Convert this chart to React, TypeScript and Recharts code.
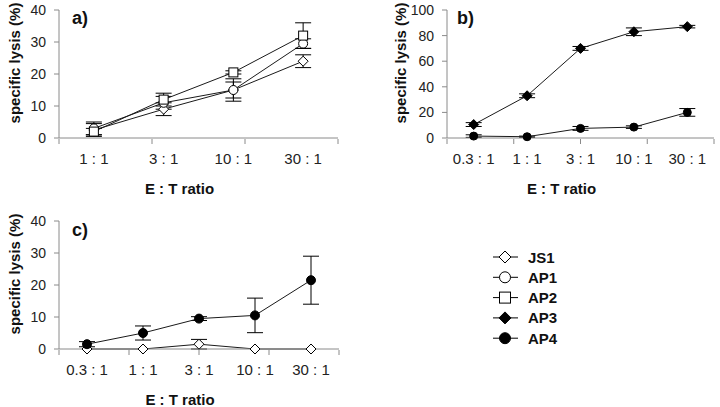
import { ComposedChart, Line, XAxis, YAxis, ErrorBar } from 'recharts'

const ratiosA = ['1 : 1', '3 : 1', '10 : 1', '30 : 1']
const ratiosBC = ['0.3 : 1', '1 : 1', '3 : 1', '10 : 1', '30 : 1']

// panel a
const aJS1 = [2.5, 9, 15, 24]
const aJS1Err = [2, 2, 3.5, 2]
const aAP1 = [3, 11, 15, 29.5]
const aAP1Err = [2, 2, 2.5, 1.5]
const aAP2 = [2, 12, 20.5, 32]
const aAP2Err = [1, 2, 0.5, 4]

// panel b
const bAP3 = [10.5, 33, 70, 83, 87]
const bAP3Err = [1.5, 1.5, 1.5, 3, 1]
const bAP4 = [1.5, 1, 7.5, 8.5, 20]
const bAP4Err = [1, 0.5, 1.5, 1, 3]

// panel c
const cJS1 = [0, 0, 1.5, 0, 0]
const cJS1Err = [0, 0, 1.5, 0, 0]
const cAP4 = [1.5, 5, 9.5, 10.5, 21.5]
const cAP4Err = [0.8, 2.2, 0.6, 5.4, 7.5]

const ticks40 = [0, 10, 20, 30, 40]
const ticks100 = [0, 20, 40, 60, 80, 100]

const legendItems = ['JS1', 'AP1', 'AP2', 'AP3', 'AP4']

const font = '"Liberation Sans", Arial, sans-serif'
const axisColor = '#8a8a8a'
const lineColor = '#1a1a1a'

const dataA = ratiosA.map((ratio, i) => ({
  ratio,
  JS1: aJS1[i],
  JS1e: aJS1Err[i],
  AP1: aAP1[i],
  AP1e: aAP1Err[i],
  AP2: aAP2[i],
  AP2e: aAP2Err[i]
}))

const dataB = ratiosBC.map((ratio, i) => ({
  ratio,
  AP3: bAP3[i],
  AP3e: bAP3Err[i],
  AP4: bAP4[i],
  AP4e: bAP4Err[i]
}))

const dataC = ratiosBC.map((ratio, i) => ({
  ratio,
  JS1: cJS1[i],
  JS1e: cJS1Err[i],
  AP4: cAP4[i],
  AP4e: cAP4Err[i]
}))

type Marker = 'diamond' | 'circle' | 'square' | 'fdiamond' | 'fcircle'

const Symbol = ({ cx, cy, kind, r = 5 }: { cx: number; cy: number; kind: Marker; r?: number }) => {
  const filled = kind === 'fdiamond' || kind === 'fcircle'
  const fill = filled ? '#000' : '#fff'
  if (kind === 'diamond' || kind === 'fdiamond') {
    return (
      <path
        d={`M${cx},${cy - r}L${cx + r},${cy}L${cx},${cy + r}L${cx - r},${cy}Z`}
        fill={fill}
        stroke="#000"
        strokeWidth={1}
      />
    )
  }
  if (kind === 'square') {
    return <rect x={cx - r + 0.5} y={cy - r + 0.5} width={2 * r - 1} height={2 * r - 1} fill={fill} stroke="#000" strokeWidth={1} />
  }
  return <circle cx={cx} cy={cy} r={r - 0.5} fill={fill} stroke="#000" strokeWidth={1} />
}

const dotOf = (kind: Marker, r = 5) => (p: any) =>
  <Symbol key={p.index} cx={p.cx} cy={p.cy} kind={kind} r={r} />

const YLabel = ({ viewBox, dx }: any) => {
  const cx = viewBox.x + dx
  const cy = viewBox.y + viewBox.height / 2 - 11
  return (
    <text
      x={cx}
      y={cy}
      transform={`rotate(-90 ${cx} ${cy})`}
      textAnchor="middle"
      dominantBaseline="central"
      fontFamily={font}
      fontSize={15}
      fontWeight="bold"
      fill="#111"
    >
      specific lysis (%)
    </text>
  )
}

const XLabel = ({ viewBox }: any) => (
  <text
    x={viewBox.x + viewBox.width / 2 - 19}
    y={viewBox.y + 50}
    textAnchor="middle"
    dominantBaseline="central"
    fontFamily={font}
    fontSize={15}
    fontWeight="bold"
    fill="#111"
  >
    E : T ratio
  </text>
)

const yTickStyle = { fontSize: 14, fill: '#222', fontFamily: font }
const xTickStyle = { fontSize: 15, fill: '#222', fontFamily: font }

const axes = (n: number, yTicks: number[], yMax: number, yWidth: number, labelDx: number) => [
  <XAxis
    key="cat"
    dataKey="ratio"
    scale="band"
    height={1}
    interval={0}
    tickLine={false}
    tickSize={0}
    tickMargin={15}
    axisLine={{ stroke: axisColor }}
    tick={xTickStyle}
    label={<XLabel />}
  />,
  <XAxis
    key="grid"
    xAxisId="grid"
    type="number"
    domain={[0, n]}
    ticks={Array.from({ length: n + 1 }, (_, i) => i)}
    allowDataOverflow
    height={1}
    axisLine={false}
    tickLine={{ stroke: axisColor }}
    tickSize={5}
    tickFormatter={() => ''}
  />,
  <YAxis
    key="y"
    domain={[0, yMax]}
    ticks={yTicks}
    width={yWidth}
    interval={0}
    axisLine={{ stroke: axisColor }}
    tickLine={{ stroke: axisColor }}
    tickSize={5}
    tickMargin={8}
    tick={yTickStyle}
    label={<YLabel dx={labelDx} />}
  />
]

const panelLabel = (text: string, left: number, top: number) => (
  <div
    style={{
      position: 'absolute',
      left,
      top,
      fontFamily: font,
      fontSize: 18,
      fontWeight: 'bold',
      color: '#111',
      lineHeight: '20px'
    }}
  >
    {text}
  </div>
)

const Legend = () => (
  <svg width={120} height={110} style={{ position: 'absolute', left: 488, top: 245 }}>
    {legendItems.map((name, i) => {
      const kinds: Marker[] = ['diamond', 'circle', 'square', 'fdiamond', 'fcircle']
      const cy = 12 + i * 20.3
      return (
        <g key={name}>
          <line x1={5} x2={30} y1={cy} y2={cy} stroke="#000" strokeWidth={1} />
          <Symbol cx={17} cy={cy} kind={kinds[i]} r={6} />
          <text x={40} y={cy} dominantBaseline="central" fontFamily={font} fontSize={15} fontWeight="bold" fill="#111">
            {name}
          </text>
        </g>
      )
    })}
  </svg>
)

const lineProps = {
  stroke: lineColor,
  strokeWidth: 1,
  isAnimationActive: false,
  activeDot: false as const
}

const err = (key: string) => <ErrorBar dataKey={key} width={8} stroke="#000" strokeWidth={1} direction="y" />

export default function App() {
  return (
    <div style={{ position: 'absolute', left: 0, top: 0, width: 720, height: 407, background: '#fff' }}>
      <div style={{ position: 'absolute', left: 0, top: 0 }}>
        <ComposedChart width={360} height={200} data={dataA} margin={{ top: 10, right: 22, left: 0, bottom: 60 }}>
          {axes(4, ticks40, 40, 59, 14)}
          <Line dataKey="JS1" {...lineProps} dot={dotOf('diamond', 5)}>
            {err('JS1e')}
          </Line>
          <Line dataKey="AP1" {...lineProps} dot={dotOf('circle', 5)}>
            {err('AP1e')}
          </Line>
          <Line dataKey="AP2" {...lineProps} dot={dotOf('square', 5)}>
            {err('AP2e')}
          </Line>
        </ComposedChart>
      </div>
      <div style={{ position: 'absolute', left: 360, top: 0 }}>
        <ComposedChart width={360} height={200} data={dataB} margin={{ top: 10, right: 6, left: 0, bottom: 60 }}>
          {axes(5, ticks100, 100, 87, 40)}
          <Line dataKey="AP3" {...lineProps} dot={dotOf('fdiamond', 5)}>
            {err('AP3e')}
          </Line>
          <Line dataKey="AP4" {...lineProps} dot={dotOf('fcircle', 4.5)}>
            {err('AP4e')}
          </Line>
        </ComposedChart>
      </div>
      <div style={{ position: 'absolute', left: 0, top: 200 }}>
        <ComposedChart width={380} height={207} data={dataC} margin={{ top: 21, right: 41, left: 0, bottom: 56 }}>
          {axes(5, ticks40, 40, 59, 14)}
          <Line dataKey="JS1" {...lineProps} dot={dotOf('diamond', 5)}>
            {err('JS1e')}
          </Line>
          <Line dataKey="AP4" {...lineProps} dot={dotOf('fcircle', 5)}>
            {err('AP4e')}
          </Line>
        </ComposedChart>
      </div>
      {panelLabel('a)', 72, 8)}
      {panelLabel('b)', 457, 8)}
      {panelLabel('c)', 72, 220)}
      <Legend />
    </div>
  )
}
